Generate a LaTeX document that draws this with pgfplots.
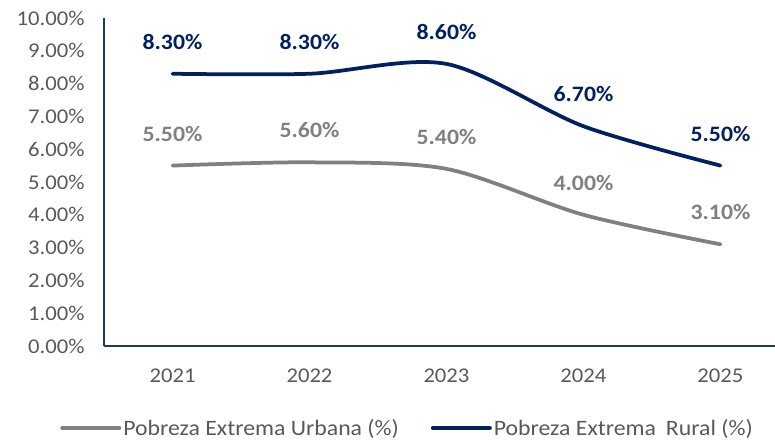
\documentclass[border=0pt]{standalone}
\usepackage{fontspec}
\setmainfont{Carlito}[FakeStretch=1.08]
\usepackage{pgfplots}
\pgfplotsset{compat=1.18}
\definecolor{navy}{RGB}{0,32,96}
\definecolor{grayline}{RGB}{128,128,128}
\definecolor{ticktext}{RGB}{89,89,89}
\definecolor{axiscol}{RGB}{31,56,100}
\begin{document}
\begin{tikzpicture}
\path[use as bounding box] (-104bp,-94bp) rectangle (671bp,346bp);
\begin{axis}[
  at={(0,0)}, anchor=south west,
  scale only axis, width=671bp, height=328bp,
  xmin=-0.5, xmax=4.398, ymin=0, ymax=10,
  axis x line=bottom, axis y line=left,
  axis line style={-, axiscol, line width=1.2bp},
  xtick={0,1,2,3,4}, xticklabels={2021,2022,2023,2024,2025},
  ytick={0,1,...,10},
  major tick length=0,
  tick label style={font=\fontsize{21bp}{25bp}\selectfont, text=ticktext},
  /pgf/number format/assume math mode=true,
  yticklabel={\pgfmathprintnumber[fixed,fixed zerofill,precision=2]{\tick}\%},
  xticklabel style={yshift=-19bp},
  yticklabel style={xshift=-16bp},
  clip=false,
  nodes near coords={\pgfmathprintnumber[fixed,fixed zerofill,precision=2]{\pgfplotspointmeta}\%},
  nodes near coords style={anchor=center, yshift=32bp, font=\bfseries\fontsize{22bp}{26bp}\selectfont},
  legend columns=2,
  legend style={at={(axis description cs:0.4523,0)}, anchor=center, yshift=-82bp,
    draw=none, fill=none, font=\fontsize{22bp}{26bp}\selectfont, text=ticktext,
    /tikz/every even column/.append style={column sep=30bp}},
  legend image code/.code={\draw[#1, line width=4bp] (0bp,0bp) -- (57bp,0bp);},
]
\addplot[grayline, line width=3.75bp, smooth, line cap=round, mark=none,
  every node near coord/.append style={text=grayline}]
  coordinates {(0,5.5) (1,5.6) (2,5.4) (3,4.0) (4,3.1)};
\addlegendentry{Pobreza Extrema Urbana (\%)}
\addplot[navy, line width=3.75bp, smooth, line cap=round, mark=none,
  every node near coord/.append style={text=navy}]
  coordinates {(0,8.3) (1,8.3) (2,8.6) (3,6.7) (4,5.5)};
\addlegendentry{Pobreza Extrema\hspace{0.45em}Rural (\%)}
\end{axis}
\end{tikzpicture}
\end{document}
